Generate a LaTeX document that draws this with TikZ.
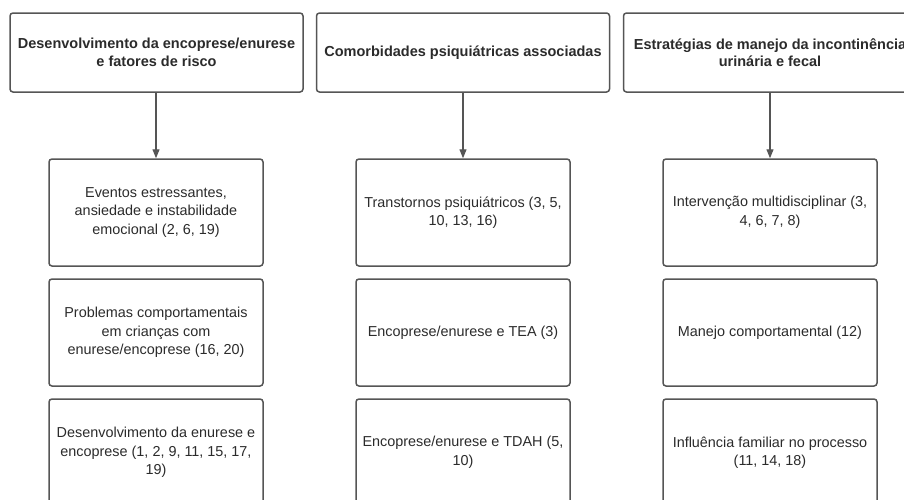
\documentclass[tikz,border=0pt]{standalone}
\usepackage{fontspec}
\setmainfont{Liberation Sans}
\usetikzlibrary{arrows.meta}
\definecolor{boxline}{HTML}{555555}
\definecolor{txt}{HTML}{2B2B2B}
\tikzset{
  headbox/.style={draw=boxline, line width=1.5pt, rounded corners=3pt, minimum width=293pt, minimum height=79pt, inner sep=0pt, align=center, text=txt, font=\fontsize{14.5}{17.5}\selectfont\bfseries},
  itembox/.style={draw=boxline, line width=1.5pt, rounded corners=3pt, minimum width=214pt, minimum height=107pt, inner sep=0pt, align=center, text=txt, font=\fontsize{14.4}{18.5}\selectfont},
  link/.style={draw=boxline, line width=1.2pt, -{Triangle[width=7pt,length=9pt]}}
}
\begin{document}
\begin{tikzpicture}[x=1pt,y=-1pt]
\fill[white] (0,0) rectangle (904,499);
\clip (0,0) rectangle (904,499);
% headers
\node[headbox] (h1) at (156.5,52.5) {Desenvolvimento da encoprese/enurese\\e fatores de risco};
\node[headbox] (h2) at (463,52.5) {Comorbidades psiquiátricas associadas};
\node[headbox] (h3) at (770,52.5) {Estratégias de manejo da incontinência\\urinária e fecal};
% column 1
\node[itembox] (a1) at (156,212.5) {Eventos estressantes,\\ansiedade e instabilidade\\emocional (2, 6, 19)};
\node[itembox] (a2) at (156,332.5) {Problemas comportamentais\\em crianças com\\enurese/encoprese (16, 20)};
\node[itembox] (a3) at (156,452.5) {Desenvolvimento da enurese e\\encoprese (1, 2, 9, 11, 15, 17,\\19)};
% column 2
\node[itembox] (b1) at (463,212.5) {Transtornos psiquiátricos (3, 5,\\10, 13, 16)};
\node[itembox] (b2) at (463,332.5) {Encoprese/enurese e TEA (3)};
\node[itembox] (b3) at (463,452.5) {Encoprese/enurese e TDAH (5,\\10)};
% column 3
\node[itembox] (c1) at (770,212.5) {Intervenção multidisciplinar (3,\\4, 6, 7, 8)};
\node[itembox] (c2) at (770,332.5) {Manejo comportamental (12)};
\node[itembox] (c3) at (770,452.5) {Influência familiar no processo\\(11, 14, 18)};
% arrows
\draw[link] (h1.south -| a1.north) -- (a1.north);
\draw[link] (h2.south) -- (b1.north);
\draw[link] (h3.south) -- (c1.north);
\end{tikzpicture}
\end{document}
